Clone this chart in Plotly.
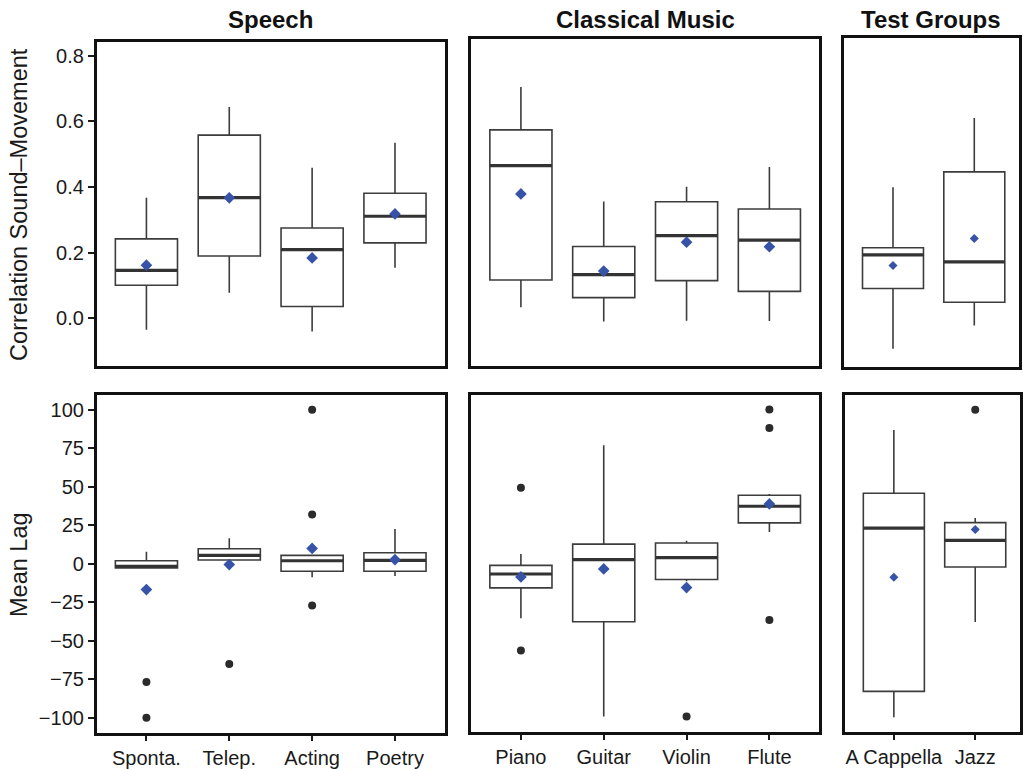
import plotly.graph_objects as go

# ---------------- data ----------------
speech_cats = ["Sponta.", "Telep.", "Acting", "Poetry"]
music_cats = ["Piano", "Guitar", "Violin", "Flute"]
test_cats = ["A Cappella", "Jazz"]

# Correlation Sound-Movement
corr_speech_lo = [-0.035, 0.078, -0.040, 0.154]
corr_speech_q1 = [0.101, 0.190, 0.036, 0.230]
corr_speech_med = [0.146, 0.368, 0.209, 0.311]
corr_speech_q3 = [0.242, 0.558, 0.275, 0.381]
corr_speech_hi = [0.367, 0.644, 0.459, 0.535]
corr_speech_mean = [0.162, 0.367, 0.184, 0.318]

corr_music_lo = [0.034, -0.010, -0.007, -0.008]
corr_music_q1 = [0.117, 0.063, 0.115, 0.082]
corr_music_med = [0.465, 0.133, 0.252, 0.238]
corr_music_q3 = [0.574, 0.219, 0.355, 0.333]
corr_music_hi = [0.705, 0.356, 0.401, 0.461]
corr_music_mean = [0.379, 0.144, 0.232, 0.218]

corr_test_lo = [-0.093, -0.022]
corr_test_q1 = [0.091, 0.049]
corr_test_med = [0.193, 0.172]
corr_test_q3 = [0.215, 0.446]
corr_test_hi = [0.399, 0.610]
corr_test_mean = [0.161, 0.243]

# Mean Lag
lag_speech_lo = [-2.7, 2.5, -8.7, -7.9]
lag_speech_q1 = [-2.7, 2.5, -4.8, -4.8]
lag_speech_med = [-1.6, 5.5, 2.0, 2.3]
lag_speech_q3 = [2.0, 9.8, 5.5, 7.2]
lag_speech_hi = [7.9, 16.7, 5.5, 22.7]
lag_speech_mean = [-16.7, -0.5, 10.0, 2.7]
lag_speech_out = [[-76.7, -100.0], [-65.0], [100.0, 32.0, -27.0], []]

lag_music_lo = [-35.4, -99.2, -11.3, 20.6]
lag_music_q1 = [-15.6, -37.6, -10.2, 26.6]
lag_music_med = [-6.6, 2.7, 4.0, 37.4]
lag_music_q3 = [-1.0, 12.8, 13.5, 44.5]
lag_music_hi = [6.4, 77.0, 15.0, 45.3]
lag_music_mean = [-8.5, -3.3, -15.4, 38.9]
lag_music_out = [[49.4, -56.3], [], [-99.2], [100.2, 88.2, -36.5]]

lag_test_lo = [-99.6, -37.8]
lag_test_q1 = [-82.8, -2.0]
lag_test_med = [23.2, 15.2]
lag_test_q3 = [45.8, 26.8]
lag_test_hi = [86.9, 29.8]
lag_test_mean = [-8.7, 22.3]
lag_test_out = [[], [100.0]]

# ---------------- style ----------------
W, H = 1023, 769
FONT = "Liberation Sans, Arial, Helvetica, sans-serif"
BOX_COLOR = "#3c3c3c"
MED_COLOR = "#333333"
MEAN_COLOR = "#3753a8"
OUT_COLOR = "#2b2b2b"
BOX_W = 0.75

fig = go.Figure()


def add_panel(ax, cats, lo, q1, med, q3, hi, mean, outliers=None, mean_size=9):
    xs = list(range(len(cats)))
    xa = "x" if ax == 1 else f"x{ax}"
    ya = "y" if ax == 1 else f"y{ax}"
    fig.add_trace(go.Box(
        x=xs, q1=q1, median=med, q3=q3, lowerfence=lo, upperfence=hi,
        width=BOX_W, whiskerwidth=0, boxpoints=False,
        fillcolor="rgba(255,255,255,0)",
        line=dict(color=BOX_COLOR, width=1.6),
        xaxis=xa, yaxis=ya, showlegend=False, hoverinfo="skip"))
    # thicker median line
    mx, my = [], []
    for x, m in zip(xs, med):
        mx += [x - BOX_W / 2, x + BOX_W / 2, None]
        my += [m, m, None]
    fig.add_trace(go.Scatter(x=mx, y=my, mode="lines",
                             line=dict(color=MED_COLOR, width=3.2),
                             xaxis=xa, yaxis=ya, showlegend=False, hoverinfo="skip"))
    if outliers:
        ox, oy = [], []
        for x, vals in zip(xs, outliers):
            for v in vals:
                ox.append(x)
                oy.append(v)
        if ox:
            fig.add_trace(go.Scatter(x=ox, y=oy, mode="markers",
                                     marker=dict(color=OUT_COLOR, size=8),
                                     xaxis=xa, yaxis=ya, showlegend=False, hoverinfo="skip"))
    fig.add_trace(go.Scatter(x=xs, y=mean, mode="markers",
                             marker=dict(symbol="diamond", color=MEAN_COLOR, size=mean_size,
                                         line=dict(width=0)),
                             xaxis=xa, yaxis=ya, showlegend=False, hoverinfo="skip"))


add_panel(1, speech_cats, corr_speech_lo, corr_speech_q1, corr_speech_med,
          corr_speech_q3, corr_speech_hi, corr_speech_mean)
add_panel(2, music_cats, corr_music_lo, corr_music_q1, corr_music_med,
          corr_music_q3, corr_music_hi, corr_music_mean)
add_panel(3, test_cats, corr_test_lo, corr_test_q1, corr_test_med,
          corr_test_q3, corr_test_hi, corr_test_mean, mean_size=7)
add_panel(4, speech_cats, lag_speech_lo, lag_speech_q1, lag_speech_med,
          lag_speech_q3, lag_speech_hi, lag_speech_mean, lag_speech_out)
add_panel(5, music_cats, lag_music_lo, lag_music_q1, lag_music_med,
          lag_music_q3, lag_music_hi, lag_music_mean, lag_music_out)
add_panel(6, test_cats, lag_test_lo, lag_test_q1, lag_test_med,
          lag_test_q3, lag_test_hi, lag_test_mean, lag_test_out, mean_size=7)


def px_x(p):
    return p / W


def px_y(p):
    return 1 - p / H


# panel pixel boxes: (left, right, top, bottom)
panels = {
    1: (97, 446, 42, 368),
    2: (472.6, 821.5, 39.3, 367.7),
    3: (846.7, 1022, 38, 369),
    4: (97, 446, 397, 737),
    5: (472.6, 821.5, 397, 736),
    6: (847.5, 1023, 397, 736),
}

# value->pixel mapping: top row 0 at px 320, 330 px/unit; bottom row 0 at px 566.8, 1.548 px/unit


def top_range(t, b):
    return [(320 - b) / 330.0, (320 - t) / 330.0]


def bot_range(t, b):
    return [(566.8 - b) / 1.548, (566.8 - t) / 1.548]


tick_font = dict(family=FONT, size=20, color="#1a1a1a")
layout = dict(width=W, height=H, margin=dict(l=0, r=0, t=0, b=0),
              paper_bgcolor="white", plot_bgcolor="white", showlegend=False,
              font=dict(family=FONT, color="#1a1a1a"))

cats_for = {1: speech_cats, 2: music_cats, 3: test_cats,
            4: speech_cats, 5: music_cats, 6: test_cats}

for ax, (l, r, t, b) in panels.items():
    xk = "xaxis" if ax == 1 else f"xaxis{ax}"
    yk = "yaxis" if ax == 1 else f"yaxis{ax}"
    n = len(cats_for[ax])
    xr = [-0.6, n - 1 + 0.6] if n > 2 else [-0.6, 1.55]
    bottom = ax >= 4
    layout[xk] = dict(
        domain=[px_x(l), px_x(r)], range=xr, anchor="y" if ax == 1 else f"y{ax}",
        tickvals=list(range(n)), ticktext=cats_for[ax],
        showticklabels=bottom, ticks="outside" if bottom else "",
        ticklen=5, tickwidth=1.5, tickcolor="#1a1a1a",
        showline=True, linecolor="#111111", linewidth=2.6, mirror=True,
        showgrid=False, zeroline=False, tickfont=tick_font, fixedrange=True)
    yr = bot_range(t, b) if bottom else top_range(t, b)
    left = ax in (1, 4)
    ydict = dict(
        domain=[px_y(b), px_y(t)], range=yr, anchor="x" if ax == 1 else f"x{ax}",
        showticklabels=left, ticks="outside" if left else "",
        ticklen=6, tickwidth=1.5, tickcolor="#1a1a1a",
        showline=True, linecolor="#111111", linewidth=2.6, mirror=True,
        showgrid=False, zeroline=False, tickfont=tick_font, fixedrange=True)
    if bottom:
        ydict.update(tickmode="array", tickvals=[-100, -75, -50, -25, 0, 25, 50, 75, 100])
    else:
        ydict.update(tickmode="array", tickvals=[0.0, 0.2, 0.4, 0.6, 0.8], tickformat=".1f")
    layout[yk] = ydict

annotations = []
for text, cx in [("Speech", 271), ("Classical Music", 647), ("Test Groups", 934)]:
    annotations.append(dict(text=f"<b>{text}</b>", x=px_x(cx), y=px_y(20), xref="paper", yref="paper",
                            xanchor="center", yanchor="middle", showarrow=False,
                            font=dict(family=FONT, size=24, color="#111111")))
annotations.append(dict(text="Correlation Sound\u2013Movement", x=px_x(19), y=px_y(205),
                        xref="paper", yref="paper", xanchor="center", yanchor="middle",
                        textangle=-90, showarrow=False,
                        font=dict(family=FONT, size=23.5, color="#1a1a1a")))
annotations.append(dict(text="Mean Lag", x=px_x(19), y=px_y(567),
                        xref="paper", yref="paper", xanchor="center", yanchor="middle",
                        textangle=-90, showarrow=False,
                        font=dict(family=FONT, size=23.5, color="#1a1a1a")))
layout["annotations"] = annotations

fig.update_layout(**layout)
fig.write_html("out.html")
